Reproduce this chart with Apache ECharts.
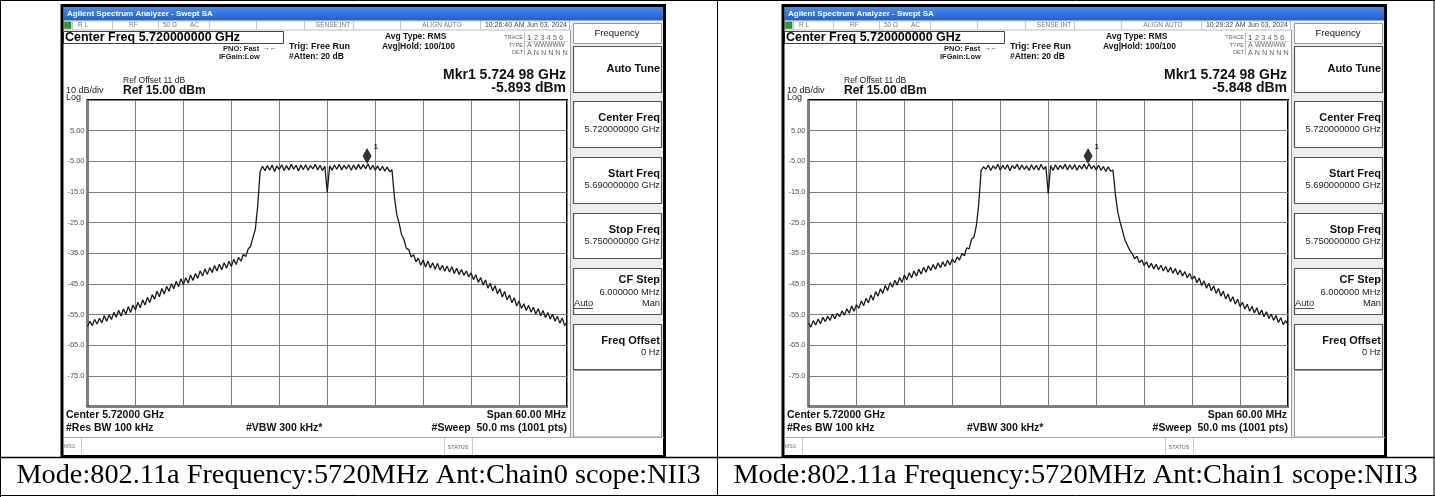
<!DOCTYPE html>
<html><head><meta charset="utf-8">
<script src="https://cdn.jsdelivr.net/npm/echarts@6/dist/echarts.min.js"></script>
<style>html,body{margin:0;padding:0;background:#fff}#c{width:1435px;height:497px}</style>
</head><body><div id="c"></div>
<script>
// ---- data ----
// trace points: offset from centre frequency (MHz), one point every 0.3 MHz from -30 to +30
const SPAN_START_MHZ = -30;
const POINT_STEP_MHZ = 0.3;
const chain0Trace = [
-58.9,-57.2,-58.6,-56.6,-58.1,-56.2,-57.7,-55.4,-57.2,-55.1,-56.6,-54.3,-55.9,-53.6,-55.5,-53.2,-54.9,-52.4,-54.3,-51.9,-53.5,
-51.0,-52.8,-50.2,-51.9,-49.4,-51.1,-48.5,-50.0,-47.4,-49.2,-46.5,-48.3,-45.8,-47.4,-44.9,-46.6,-44.1,-45.9,-43.3,-45.2,
-43.0,-44.7,-42.1,-43.9,-41.6,-43.2,-40.7,-42.4,-40.1,-41.9,-39.7,-41.3,-39.0,-40.8,-38.6,-40.4,-38.1,-39.9,-37.6,-39.3,
-37.0,-38.7,-36.3,-37.6,-35.4,-36.1,-33.6,-32.8,-29.9,-27.2,-19.5,-8.3,
-6.6,-8.1,-6.4,-7.9,-6.2,-8.3,-6.5,-7.7,-6.1,-8.0,-6.4,-7.8,-6.0,-7.6,-6.3,-8.2,-6.2,-7.7,-6.1,-7.9,-6.4,-7.5,-6.0,-7.8,-6.3,-8.0,-6.6,
-15.2,
-6.5,-7.9,-6.2,-7.6,-6.0,-7.8,-6.3,-7.5,-6.1,-7.9,-6.2,-7.7,-6.0,-7.6,-6.1,-7.4,-5.9,-7.7,-6.3,-7.9,-6.5,-8.1,-6.6,-8.2,-6.9,-8.4,
-7.8,
-16.5,-22.4,-25.3,-28.9,-30.6,-33.4,-33.8,-36.2,-35.5,-37.8,-36.6,-38.9,-37.2,
-39.5,-37.6,-39.8,-38.1,-40.2,-38.3,-40.5,-38.9,-40.9,-39.2,-41.1,-39.4,-41.6,-39.9,-41.9,-40.3,-42.2,-40.8,-42.7,-41.4,
-43.6,-42.0,-44.5,-42.9,-45.4,-43.7,-46.4,-44.8,-47.3,-45.6,-48.2,-46.6,-49.3,-47.5,-50.2,-48.6,-51.1,-49.5,-52.2,-50.6,
-53.0,-51.5,-53.7,-52.0,-54.2,-52.6,-54.8,-53.1,-55.4,-53.7,-56.0,-54.3,-56.5,-54.9,-57.2,-55.6,-57.8,-56.1,-58.6,-57.4
];
const chain1Trace = [
-57.8,-59.1,-57.0,-58.4,-56.5,-58.0,-55.9,-57.3,-55.6,-56.9,-54.8,-56.4,-54.6,-55.7,-53.8,-55.2,-53.1,-54.6,-52.2,-53.9,-51.8,
-53.0,-50.6,-52.1,-49.7,-51.2,-48.6,-50.3,-47.5,-49.0,-46.6,-48.1,-45.5,-47.2,-44.6,-46.1,-43.8,-45.4,-42.9,-44.5,-42.1,
-43.7,-41.4,-43.0,-40.8,-42.5,-40.2,-41.8,-39.6,-41.2,-39.1,-40.6,-38.7,-40.2,-38.2,-39.7,-37.8,-39.3,-37.3,-38.8,-36.9,
-38.1,-36.2,-37.2,-35.1,-35.8,-33.2,-33.6,-30.4,-29.8,-26.1,-19.0,-8.0,
-6.8,-7.6,-6.2,-8.0,-6.5,-7.5,-6.0,-7.9,-6.3,-7.6,-6.1,-8.1,-6.4,-7.4,-6.0,-7.8,-6.2,-7.6,-6.5,-8.0,-6.1,-7.7,-6.3,-7.9,-6.0,-7.6,-6.7,
-15.6,
-6.4,-8.0,-6.1,-7.7,-6.3,-7.5,-6.0,-7.8,-6.2,-7.6,-6.1,-7.9,-6.3,-7.5,-6.0,-7.6,-5.8,-7.5,-6.4,-7.8,-6.3,-8.0,-6.7,-8.3,-6.8,-8.2,
-7.9,
-15.8,-21.6,-24.9,-27.8,-30.7,-32.4,-34.0,-35.1,-36.8,-36.0,-38.1,-37.2,-39.0,
-37.8,-39.7,-38.3,-40.1,-38.6,-40.4,-38.9,-40.8,-39.3,-41.2,-39.6,-41.5,-40.0,-42.0,-40.5,-42.4,-41.0,-43.0,-41.6,-43.5,
-42.4,-44.6,-43.1,-45.5,-44.0,-46.4,-44.8,-47.2,-45.7,-48.1,-46.5,-49.0,-47.4,-49.9,-48.3,-50.8,-49.2,-51.6,-50.0,-52.4,
-51.0,-53.2,-51.6,-53.9,-52.3,-54.5,-52.8,-55.1,-53.5,-55.7,-54.1,-56.3,-54.8,-56.9,-55.3,-57.6,-56.0,-58.3,-57.0,-58.4
];
const yTickValues = [5, -5, -15, -25, -35, -45, -55, -65, -75];
const yTickLabels = ['5.00', '-5.00', '-15.0', '-25.0', '-35.0', '-45.0', '-55.0', '-65.0', '-75.0'];
const markerOffsetsMHz = [4.98, 4.98];
const markerLevels = [-5.893, -5.848];
const markerFreqText = 'Mkr1 5.724 98 GHz';
const markerReadouts = ['-5.893 dBm', '-5.848 dBm'];
const timestamps = ['10:26:40 AM Jun 03, 2024', '10:29:32 AM Jun 03, 2024'];
const captions = ['Mode:802.11a Frequency:5720MHz Ant:Chain0 scope:NII3', 'Mode:802.11a Frequency:5720MHz Ant:Chain1 scope:NII3'];
const softkeyTitles = ['Auto Tune', 'Center Freq', 'Start Freq', 'Stop Freq', 'CF Step', 'Freq Offset'];
const softkeyValues = ['', '5.720000000 GHz', '5.690000000 GHz', '5.750000000 GHz', '6.000000 MHz', '0 Hz'];

// ---- layout ----
const SANS = '"Liberation Sans", Arial, sans-serif';
const SERIF = '"Liberation Serif", "Times New Roman", serif';
const PANEL_DX = [0, 721];

function T(x, y, text, size, o) {
  return {type: 'text', silent: true, z: 10, style: Object.assign({
    x: x, y: y, text: text, fill: '#111', fontSize: size, fontFamily: SANS,
    fontWeight: 'normal', textAlign: 'left', textVerticalAlign: 'middle'}, o || {})};
}
function R(x, y, w, h, st) {
  return {type: 'rect', silent: true, z: 5, shape: {x: x, y: y, width: w, height: h}, style: Object.assign({fill: 'none'}, st || {})};
}
function L(x1, y1, x2, y2, stroke, lw) {
  return {type: 'line', silent: true, z: 6, shape: {x1: x1, y1: y1, x2: x2, y2: y2}, style: {stroke: stroke, lineWidth: lw}};
}

function panelChrome(p) {
  const o = PANEL_DX[p];
  const e = [];
  // title bar
  e.push(R(o + 63.5, 7, 600, 13.5, {fill: new echarts.graphic.LinearGradient(0, 0, 0, 1, [
    {offset: 0, color: '#4a8aee'}, {offset: 1, color: '#1d5fd0'}])}));
  e.push(T(o + 67, 13.8, 'Agilent Spectrum Analyzer - Swept SA', 8, {fill: '#fff', fontWeight: 'bold'}));
  // status row
  e.push(R(o + 63.5, 21, 506, 9, {fill: '#fff', stroke: '#aaa', lineWidth: 0.8}));
  [72, 112, 158, 209, 256, 304, 353, 400, 480].forEach(function (x) { e.push(L(o + x + 0.5, 21, o + x + 0.5, 30, '#bbb', 0.8)); });
  e.push(R(o + 64.5, 22, 6.5, 6.5, {fill: '#2f9a2f', stroke: '#1b5e1b', lineWidth: 0.5}));
  const sg = {fill: '#777'};
  e.push(T(o + 78, 25.5, 'R L', 6.5, sg));
  e.push(T(o + 129, 25.5, 'RF', 6.5, sg));
  e.push(T(o + 163, 25.5, '50 Ω', 6.5, sg));
  e.push(T(o + 190, 25.5, 'AC', 6.5, sg));
  e.push(T(o + 333, 25.5, 'SENSE:INT', 6.5, Object.assign({textAlign: 'center'}, sg)));
  e.push(T(o + 442, 25.5, 'ALIGN AUTO', 6.5, Object.assign({textAlign: 'center'}, sg)));
  e.push(T(o + 567, 25.5, timestamps[p], 7, {fill: '#444', textAlign: 'right'}));
  // center freq box
  e.push(R(o + 63.5, 31.5, 220, 12, {fill: '#fff', stroke: '#444', lineWidth: 1}));
  e.push(T(o + 65, 38, 'Center Freq 5.720000000 GHz', 12.5, {fill: '#000', fontWeight: 'bold'}));
  e.push(T(o + 223, 48.5, 'PNO: Fast', 7.5, {fontWeight: 'bold', fill: '#222'}));
  e.push(T(o + 263, 48.5, '→←', 7, {fill: '#222'}));
  e.push(T(o + 219, 57, 'IFGain:Low', 7.5, {fontWeight: 'bold', fill: '#222'}));
  e.push(T(o + 289, 47, 'Trig: Free Run', 9, {fontWeight: 'bold', fill: '#111'}));
  e.push(T(o + 289, 57, '#Atten: 20 dB', 8.5, {fontWeight: 'bold', fill: '#111'}));
  e.push(T(o + 385, 36.5, 'Avg Type: RMS', 8.5, {fontWeight: 'bold', fill: '#111'}));
  e.push(T(o + 382, 46.5, 'Avg|Hold: 100/100', 8.5, {fontWeight: 'bold', fill: '#111'}));
  // trace block
  e.push(L(o + 524.5, 33, o + 524.5, 55, '#aaa', 0.8));
  e.push(L(o + 524, 41.5, o + 568, 41.5, '#ccc', 0.8));
  e.push(T(o + 523, 37, 'TRACE', 5.5, {fill: '#666', textAlign: 'right'}));
  e.push(T(o + 527, 37.5, '1', 7.5, {fill: '#333'}));
  e.push(T(o + 534, 37.5, '2 3 4 5 6', 7.5, {fill: '#666'}));
  e.push(T(o + 523, 45, 'TYPE', 5.5, {fill: '#666', textAlign: 'right'}));
  e.push(T(o + 527, 45.5, 'A', 7, {fill: '#666'}));
  e.push(T(o + 534, 45.5, 'WWWWW', 6.5, {fill: '#666'}));
  e.push(T(o + 523, 52.5, 'DET', 5.5, {fill: '#666', textAlign: 'right'}));
  e.push(T(o + 527, 53, 'A N N N N N', 7.2, {fill: '#666'}));
  // marker readout
  e.push(T(o + 566, 75, markerFreqText, 14, {fontWeight: 'bold', textAlign: 'right'}));
  e.push(T(o + 566, 88.5, markerReadouts[p], 14, {fontWeight: 'bold', textAlign: 'right'}));
  // reference info
  e.push(T(o + 123, 80.5, 'Ref Offset 11 dB', 8.5, {fill: '#222'}));
  e.push(T(o + 123, 91, 'Ref 15.00 dBm', 12, {fontWeight: 'bold'}));
  e.push(T(o + 66, 91, '10 dB/div', 9, {fill: '#222'}));
  e.push(T(o + 66, 97.5, 'Log', 9, {fill: '#222'}));
  // bottom annotations
  e.push(T(o + 66, 415, 'Center 5.72000 GHz', 10.5, {fontWeight: 'bold'}));
  e.push(T(o + 566, 415, 'Span 60.00 MHz', 10.5, {fontWeight: 'bold', textAlign: 'right'}));
  e.push(T(o + 66, 428, '#Res BW 100 kHz', 10.5, {fontWeight: 'bold'}));
  e.push(T(o + 246, 428, '#VBW 300 kHz*', 10.5, {fontWeight: 'bold'}));
  e.push(T(o + 567, 428, '#Sweep  50.0 ms (1001 pts)', 10.5, {fontWeight: 'bold', textAlign: 'right'}));
  // msg row
  e.push(L(o + 63, 437.5, o + 664, 437.5, '#aaa', 1));
  e.push(L(o + 81.5, 438, o + 81.5, 455, '#bbb', 0.8));
  e.push(L(o + 444.5, 438, o + 444.5, 455, '#bbb', 0.8));
  e.push(L(o + 472.5, 438, o + 472.5, 455, '#bbb', 0.8));
  e.push(T(o + 64, 447, 'MSG', 5, {fill: '#777'}));
  e.push(T(o + 458, 447, 'STATUS', 5.5, {fill: '#666', textAlign: 'center'}));
  // separator between screen and softkeys
  e.push(L(o + 570.5, 30, o + 570.5, 437, '#999', 1));
  // softkey panel
  e.push(R(o + 571, 21, 92, 416, {fill: '#ececec'}));
  e.push(R(o + 573.5, 23.5, 88, 20, {fill: '#fff', stroke: '#999', lineWidth: 1}));
  e.push(T(o + 617, 33.5, 'Frequency', 9.5, {fill: '#111', textAlign: 'center'}));
  const keyTops = [46, 101, 157, 213, 268, 324];
  const keyH = [46, 46, 46, 45, 46, 45];
  keyTops.forEach(function (ky, k) {
    e.push(R(o + 573.5, ky + 0.5, 88, keyH[k], {fill: '#fff', stroke: '#555', lineWidth: 1.2}));
    if (k === 0) {
      e.push(T(o + 660, ky + 23, softkeyTitles[k], 11, {fontWeight: 'bold', textAlign: 'right'}));
    } else if (k === 4) {
      e.push(T(o + 660, ky + 12, softkeyTitles[k], 11, {fontWeight: 'bold', textAlign: 'right'}));
      e.push(T(o + 660, ky + 24, softkeyValues[k], 9.3, {textAlign: 'right', fill: '#222'}));
      e.push(T(o + 574, ky + 35, 'Auto', 9.3, {fill: '#222'}));
      e.push(L(o + 574, ky + 40.5, o + 593, ky + 40.5, '#222', 0.8));
      e.push(T(o + 660, ky + 35, 'Man', 9.3, {textAlign: 'right', fill: '#222'}));
    } else {
      e.push(T(o + 660, ky + 16.5, softkeyTitles[k], 11, {fontWeight: 'bold', textAlign: 'right'}));
      e.push(T(o + 660, ky + 28.5, softkeyValues[k], 9.3, {textAlign: 'right', fill: '#222'}));
    }
  });
  e.push(R(o + 573.5, 370.5, 88, 66.5, {fill: '#fff', stroke: '#999', lineWidth: 1}));
  // outer black frame of the screenshot
  e.push(R(o + 62, 5.5, 602.5, 451, {stroke: '#000', lineWidth: 3}));
  return e;
}

const graphics = [];
PANEL_DX.forEach(function (dx, p) { panelChrome(p).forEach(function (g) { graphics.push(g); }); });
// table lines
graphics.push(L(0, 0.5, 1435, 0.5, '#000', 1));
graphics.push(L(0.5, 0, 0.5, 497, '#000', 1));
graphics.push(L(717.5, 0, 717.5, 496, '#000', 1));
graphics.push(L(1434, 0, 1434, 496, '#000', 1));
graphics.push(L(0, 457.5, 1435, 457.5, '#000', 1.5));
graphics.push(L(0, 495.5, 1435, 495.5, '#000', 1));
graphics.push(T(358.5, 476, captions[0], 28.3, {fontFamily: SERIF, textAlign: 'center', fill: '#000'}));
graphics.push(T(1075.5, 476, captions[1], 28.3, {fontFamily: SERIF, textAlign: 'center', fill: '#000'}));

function toPoints(arr) {
  return arr.map(function (v, i) { return [SPAN_START_MHZ + i * POINT_STEP_MHZ, v]; });
}
const traces = [chain0Trace, chain1Trace];

const grids = [], xAxes = [], yAxes = [], series = [];
PANEL_DX.forEach(function (dx, p) {
  grids.push({left: 87.5 + dx, top: 100, width: 479.5, height: 306.5, show: true,
    borderColor: '#000', borderWidth: 2, backgroundColor: '#fff'});
  xAxes.push({type: 'value', gridIndex: p, min: -30, max: 30, interval: 6,
    axisLine: {show: false}, axisTick: {show: false}, axisLabel: {show: false},
    splitLine: {show: true, lineStyle: {color: '#7d7d7d', width: 1}}});
  yAxes.push({type: 'value', gridIndex: p, min: -85, max: 15, interval: 10,
    axisLine: {show: false}, axisTick: {show: false},
    axisLabel: {show: true, fontSize: 7.5, color: '#555', margin: 3, fontFamily: SANS,
      showMinLabel: false, showMaxLabel: false,
      formatter: function (v) { const i = yTickValues.indexOf(Math.round(v * 100) / 100); return i >= 0 ? yTickLabels[i] : ''; }},
    splitLine: {show: true, lineStyle: {color: '#7d7d7d', width: 1}}});
  series.push({type: 'line', xAxisIndex: p, yAxisIndex: p, data: toPoints(traces[p]),
    showSymbol: false, symbol: 'none', lineStyle: {color: '#1a1a1a', width: 1.3}, z: 3, animation: false, silent: true});
  series.push({type: 'scatter', xAxisIndex: p, yAxisIndex: p, data: [[markerOffsetsMHz[p], markerLevels[p]]],
    symbol: 'diamond', symbolSize: [9, 16], symbolOffset: [0, -8], itemStyle: {color: '#000'}, z: 4, silent: true,
    label: {show: true, formatter: '1', position: 'right', offset: [-3, -9], fontSize: 8, fontWeight: 'bold', color: '#000', fontFamily: SANS}});
});

const chart = echarts.init(document.getElementById('c'), null, {renderer: 'canvas'});
chart.setOption({
  animation: false,
  backgroundColor: '#fff',
  grid: grids, xAxis: xAxes, yAxis: yAxes, series: series,
  graphic: {elements: graphics}
});
</script></body></html>
